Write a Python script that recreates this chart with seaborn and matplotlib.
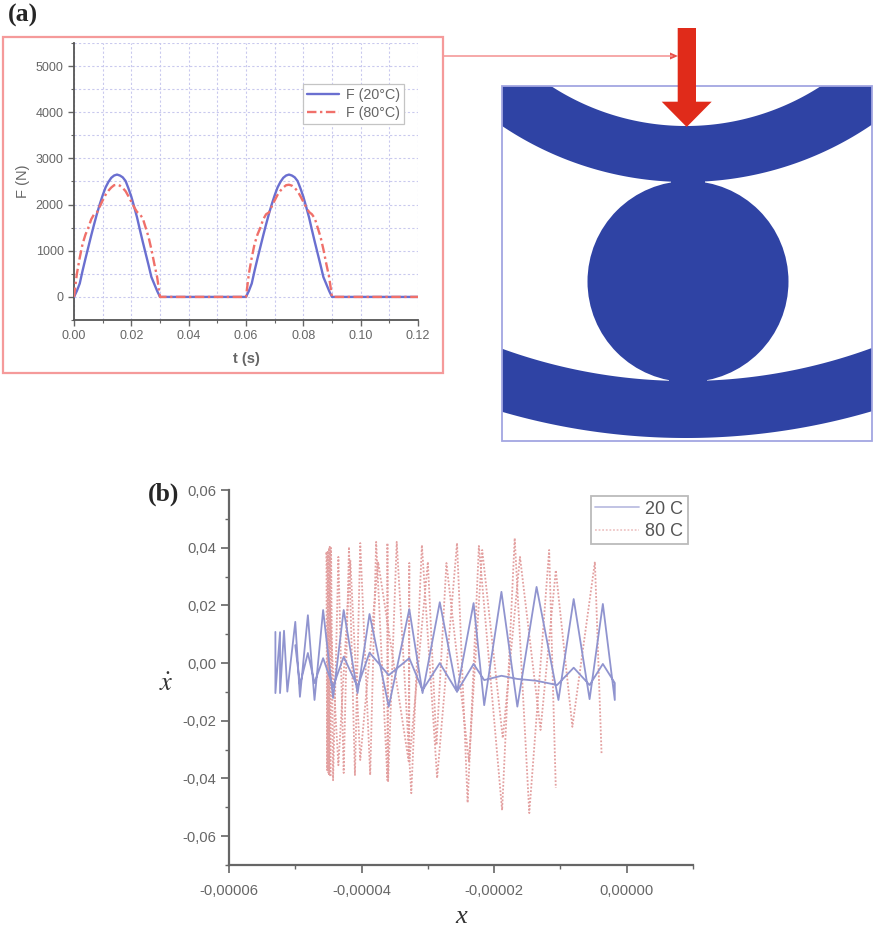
import numpy as np
import pandas as pd
import seaborn as sns
import matplotlib
matplotlib.use('Agg')
import matplotlib.pyplot as plt
from matplotlib.patches import Circle, Polygon, Rectangle
from matplotlib.ticker import FuncFormatter, MultipleLocator

# panel (a), contact force over time
t_force = [0.000, 0.001, 0.002, 0.003, 0.004, 0.005, 0.006, 0.007, 0.008, 0.009, 0.010, 0.011, 0.012, 0.013, 0.014, 0.015,
           0.016, 0.017, 0.018, 0.019, 0.020, 0.021, 0.022, 0.023, 0.024, 0.025, 0.026, 0.027, 0.028, 0.029, 0.030,
           0.060, 0.061, 0.062, 0.063, 0.064, 0.065, 0.066, 0.067, 0.068, 0.069, 0.070, 0.071, 0.072, 0.073, 0.074, 0.075,
           0.076, 0.077, 0.078, 0.079, 0.080, 0.081, 0.082, 0.083, 0.084, 0.085, 0.086, 0.087, 0.088, 0.089, 0.090, 0.120]
f_20c = [0, 130, 290, 570, 830, 1080, 1330, 1570, 1800, 2010, 2200, 2370, 2490, 2580, 2630, 2650,
         2630, 2590, 2510, 2350, 2170, 1950, 1720, 1450, 1190, 940, 690, 430, 280, 130, 0,
         0, 130, 290, 570, 830, 1080, 1330, 1570, 1800, 2010, 2200, 2370, 2490, 2580, 2630, 2650,
         2630, 2590, 2510, 2350, 2170, 1950, 1720, 1450, 1190, 940, 690, 430, 280, 130, 0, 0]
f_80c = [0, 500, 850, 1150, 1350, 1500, 1680, 1790, 1830, 1960, 2090, 2210, 2300, 2370, 2420, 2430,
         2410, 2360, 2290, 2180, 2060, 1940, 1840, 1790, 1700, 1500, 1300, 1030, 720, 430, 0,
         0, 500, 850, 1150, 1350, 1500, 1680, 1790, 1830, 1960, 2090, 2210, 2300, 2370, 2420, 2430,
         2410, 2360, 2290, 2180, 2060, 1940, 1840, 1790, 1700, 1500, 1300, 1030, 720, 430, 0, 0]

# panel (b), phase plot: x in 1e-5, velocity in 1e-2
x_20c = [-5.30, -5.30, -5.23, -5.23, -5.17, -5.12, -5.00, -4.93, -4.81, -4.71, -4.58, -4.43, -4.27, -4.06,
         -3.88, -3.59, -3.28, -3.08, -2.82, -2.56, -2.31, -2.15, -1.89, -1.65, -1.36, -1.03, -0.80, -0.56,
         -0.36, -0.18,
         -0.18, -0.36, -0.56, -0.80, -1.05, -1.37, -1.65, -1.89, -2.15, -2.31, -2.56, -2.82, -3.08, -3.28,
         -3.59, -3.88, -4.06, -4.27, -4.43, -4.58, -4.71, -4.81, -4.93, -5.00]
v_20c = [1.08, -1.04, 1.07, -1.04, 1.12, -0.99, 1.43, -1.17, 1.66, -1.28, 1.84, -1.21, 1.84, -1.04,
         1.70, -1.51, 1.87, -1.04, 2.11, -0.99, 2.08, -1.46, 2.47, -1.51, 2.64, -1.28, 2.22, -1.25,
         2.05, -1.28,
         -0.69, -0.03, -0.76, -0.16, -0.76, -0.61, -0.55, -0.44, -0.59, -0.03, -0.99, 0.00, -0.94, 0.17,
         -0.42, 0.36, -0.82, 0.22, -0.82, 0.17, -0.69, 0.35, -0.76, 0.62]
x_80c = [-0.38, -0.48, -0.82, -1.07, -1.30, -1.61, -1.87, -2.18, -2.38, -2.72, -2.87, -3.00, -3.28, -3.28, -3.29, -3.75,
         -4.02, -4.17, -4.35,
         -4.53, -4.52, -4.51, -4.50, -4.49, -4.49, -4.48, -4.47, -4.46, -4.43, -4.35, -4.27, -4.19, -4.10, -4.02, -3.87, -3.78, -3.61,
         -3.61, -3.60, -3.47, -3.25, -3.09, -2.86, -2.56, -2.40, -2.23, -1.88, -1.69, -1.47, -1.17, -1.07]
v_80c = [-3.12, 3.51, -2.21, 3.22, -2.32, 3.68, -2.60, 3.92, -3.42, 3.47, -2.84, 3.51, -3.42, 3.47, -3.40, 3.51,
         -3.36, 3.57, -3.54,
         3.86, -3.71, 3.90, -3.80, 4.00, -3.90, 4.03, -3.94, 3.99, -4.06, 3.68, -3.81, 4.03, -3.88, 4.16, -3.88, 4.20, -4.06,
         4.16, -4.12, 4.20, -4.51, 4.09, -3.99, 4.16, -4.84, 4.06, -5.10, 4.33, -5.20, 3.92, -4.33]

W, H = 873, 927
GRID = '#c9c9ee'
TXT = '#666666'
BLUE = '#2f43a4'


def ax_rect(left, right, top, bottom):
    return [left / W, 1 - bottom / H, (right - left) / W, (bottom - top) / H]


def draw_schematic(ax):
    """Rollers and force arrow, in pixel coordinates of the figure."""
    xs = np.linspace(502, 872, 200)

    def arc(cy, r):
        return cy + np.sqrt(r ** 2 - (xs - 686) ** 2)

    top_up = np.maximum(arc(-122, 248), 86)
    top_low = arc(-148, 330)
    bot_up = arc(-159, 540)
    bot_low = np.minimum(arc(-221, 659), 441)
    for up, low in [(top_up, top_low), (bot_up, bot_low)]:
        pts = np.r_[np.c_[xs, up], np.c_[xs[::-1], low[::-1]]]
        ax.add_patch(Polygon(pts, fc=BLUE, ec='none'))
    ax.add_patch(Circle((688, 281.5), 100.5, fc=BLUE, ec='none'))
    ax.add_patch(Rectangle((671, 174), 34, 16, fc=BLUE, ec='none'))
    ax.add_patch(Rectangle((669, 374), 38, 14, fc=BLUE, ec='none'))
    ax.add_patch(Rectangle((502, 86), 370, 355, fc='none', ec='#a3a6e2', lw=1.3))

    arrow = [(677.7, 28), (696, 28), (696, 101.7), (711.7, 101.7), (686.7, 127), (661.7, 101.7), (677.7, 101.7)]
    ax.add_patch(Polygon(arrow, fc='#e02b1a', ec='none', zorder=5))

    # red frame round panel (a) and the link to the arrow
    ax.add_patch(Rectangle((3, 37), 439.5, 336, fc='none', ec='#f59a9a', lw=1.6))
    ax.plot([443, 672], [56, 56], color='#f59a9a', lw=1.2)
    ax.add_patch(Polygon([(670, 52.5), (678, 56), (670, 59.5)], fc='#e8504a', ec='none'))


def draw_force(ax):
    df = pd.concat([
        pd.DataFrame({'t': t_force, 'F': f_20c, 'series': 'F (20°C)'}),
        pd.DataFrame({'t': t_force, 'F': f_80c, 'series': 'F (80°C)'}),
    ])
    sns.lineplot(data=df, x='t', y='F', hue='series', style='series', sort=False, estimator=None, ax=ax,
                 palette={'F (20°C)': '#6a6fd0', 'F (80°C)': '#f0706a'},
                 dashes={'F (20°C)': (None, None), 'F (80°C)': (4, 1.5, 1, 1.5)}, linewidth=1.7, zorder=3)
    ax.set_xlim(0, 0.12)
    ax.set_ylim(-500, 5500)
    ax.xaxis.set_major_locator(MultipleLocator(0.02))
    ax.xaxis.set_minor_locator(MultipleLocator(0.01))
    ax.yaxis.set_major_locator(MultipleLocator(1000))
    ax.yaxis.set_minor_locator(MultipleLocator(500))
    ax.xaxis.set_major_formatter(FuncFormatter(lambda v, p: f'{v:.2f}'))
    ax.set_yticks(np.arange(0, 5001, 1000))
    ax.grid(which='both', color=GRID, lw=0.8, ls=(0, (2, 2)))
    ax.set_axisbelow(True)
    ax.tick_params(which='major', length=4, width=1, colors=TXT, labelsize=9, bottom=True, left=True)
    ax.tick_params(which='minor', length=2.5, width=0.8, color=TXT, bottom=True, left=True)
    ax.set_xlabel('t (s)', fontsize=10.5, color=TXT, fontweight='bold', labelpad=7)
    ax.set_ylabel('F (N)', fontsize=10.5, color=TXT, labelpad=4)
    sns.despine(ax=ax)
    for side in ['left', 'bottom']:
        ax.spines[side].set_color('#555555')
        ax.spines[side].set_linewidth(1.3)
    leg = ax.legend(loc='upper left', bbox_to_anchor=(0.666, 0.852), borderaxespad=0, fontsize=10.3,
                    fancybox=False, framealpha=1, edgecolor='#c4c4c4', labelcolor=TXT,
                    handlelength=2.2, labelspacing=0.25, borderpad=0.3, handletextpad=0.5)
    leg.get_frame().set_linewidth(0.9)


def draw_phase(ax):
    df = pd.concat([
        pd.DataFrame({'x': np.array(x_20c) * 1e-5, 'v': np.array(v_20c) * 1e-2, 'series': '20 C'}),
        pd.DataFrame({'x': np.array(x_80c) * 1e-5, 'v': np.array(v_80c) * 1e-2, 'series': '80 C'}),
    ])
    sns.lineplot(data=df, x='x', y='v', hue='series', style='series', sort=False, estimator=None, ax=ax,
                 hue_order=['80 C', '20 C'], style_order=['80 C', '20 C'],
                 palette={'20 C': '#9094cf', '80 C': '#e3a0a0'},
                 dashes={'20 C': (None, None), '80 C': (1, 1)}, linewidth=1.3)
    ax.set_xlim(-6e-5, 1e-5)
    ax.set_ylim(-0.07, 0.06)
    ax.xaxis.set_major_locator(MultipleLocator(2e-5))
    ax.xaxis.set_minor_locator(MultipleLocator(1e-5))
    ax.yaxis.set_major_locator(MultipleLocator(0.02))
    ax.yaxis.set_minor_locator(MultipleLocator(0.01))
    ax.xaxis.set_major_formatter(FuncFormatter(lambda v, p: f'{v:.5f}'.replace('.', ',')))
    ax.yaxis.set_major_formatter(FuncFormatter(lambda v, p: f'{v:.2f}'.replace('.', ',')))
    ax.tick_params(which='major', length=5.5, width=1.2, colors=TXT, labelsize=10.6, bottom=True, left=True)
    ax.tick_params(axis='x', which='major', pad=8)
    ax.tick_params(which='minor', length=3, width=1, color=TXT, bottom=True, left=True)
    ax.set_xlabel('')
    ax.set_ylabel('')
    sns.despine(ax=ax)
    for side in ['left', 'bottom']:
        ax.spines[side].set_color('#666666')
        ax.spines[side].set_linewidth(1.6)
    handles, labels = ax.get_legend_handles_labels()
    pairs = dict(zip(labels, handles))
    leg = ax.legend([pairs['20 C'], pairs['80 C']], ['20 C', '80 C'], loc='upper left',
                    bbox_to_anchor=(0.78, 0.984), borderaxespad=0, fontsize=13, fancybox=False,
                    framealpha=1, edgecolor='#bbbbbb', labelcolor='#555555',
                    handlelength=2.4, labelspacing=0.3, borderpad=0.25, handletextpad=0.35)
    leg.get_frame().set_linewidth(1.3)
    for line in leg.get_lines():
        line.set_alpha(0.6)


def main():
    sns.set_theme(style='white')
    plt.rcParams['font.family'] = ['Liberation Sans', 'DejaVu Sans']
    plt.rcParams['mathtext.fontset'] = 'stix'

    fig = plt.figure(figsize=(W / 100, H / 100), dpi=100, facecolor='white')

    bg = fig.add_axes([0, 0, 1, 1])
    bg.set_xlim(0, W)
    bg.set_ylim(H, 0)
    bg.axis('off')
    draw_schematic(bg)

    ax_a = fig.add_axes(ax_rect(74, 418, 43, 320))
    ax_a.patch.set_alpha(0)
    draw_force(ax_a)

    ax_b = fig.add_axes(ax_rect(229, 693, 490, 865))
    ax_b.patch.set_alpha(0)
    draw_phase(ax_b)

    # panel letters and axis symbols of (b)
    bg.text(8, 15, '(a)', family='Liberation Serif', fontweight='bold', fontsize=18.5, va='center', ha='left')
    bg.text(148, 494, '(b)', family='Liberation Serif', fontweight='bold', fontsize=18.5, va='center', ha='left')
    bg.text(166, 684, r'$\dot{x}$', fontsize=19, va='center', ha='center', color='#333333')
    bg.text(461, 917, 'x', family='Liberation Serif', style='italic', fontsize=19, va='center', ha='center',
            color='#333333')

    fig.savefig('out.png', dpi=100)


if __name__ == "__main__":
    main()
